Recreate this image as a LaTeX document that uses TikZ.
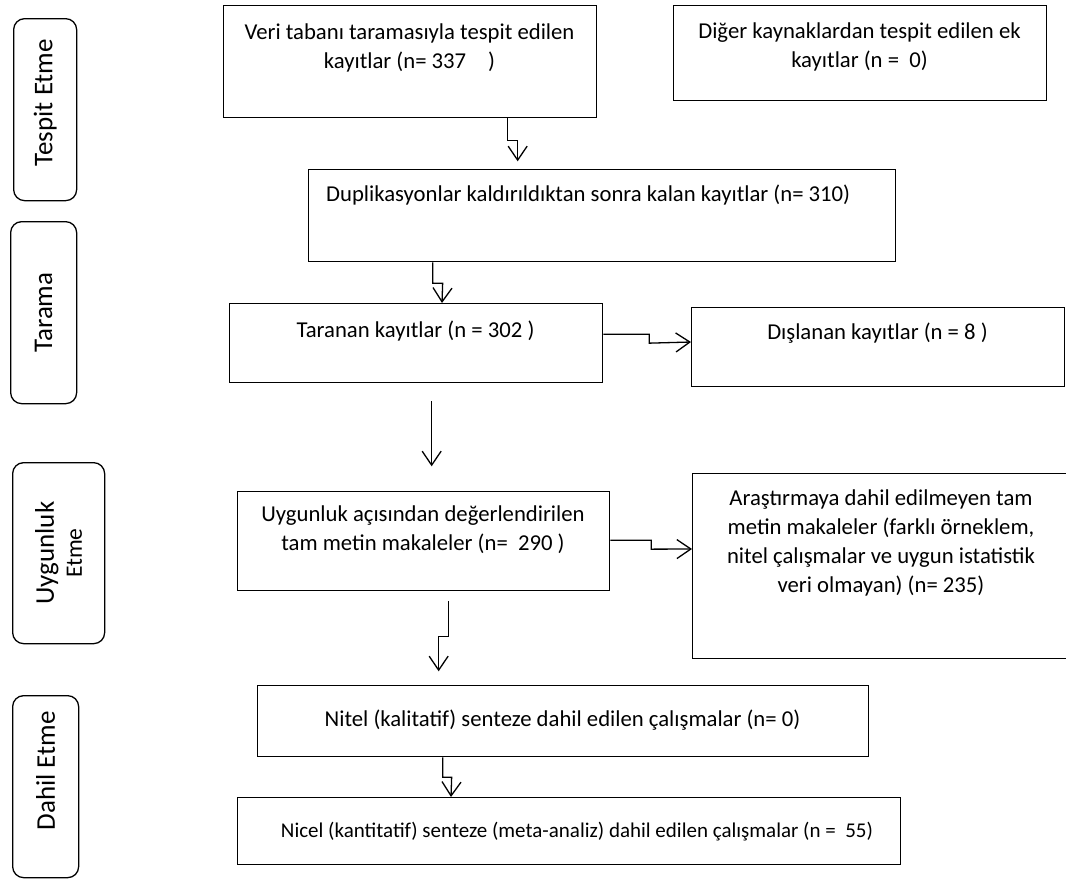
\documentclass[tikz,border=0pt]{standalone}
\usepackage{fontspec}
\setmainfont{Carlito}
\usetikzlibrary{arrows.meta}
\begin{document}
\begin{tikzpicture}[x=1pt,y=-1pt,
  box/.style={draw,line width=1.3pt,inner sep=0pt,anchor=north west},
  side/.style={draw,line width=1.3pt,rounded corners=11pt,inner sep=0pt,anchor=north west},
  txt/.style={inner sep=0pt,anchor=base,align=center,font=\fontsize{22.7}{29}\selectfont},
  stxt/.style={inner sep=0pt,rotate=90,align=center,font=\fontsize{27}{31}\selectfont},
  arr/.style={line width=1.3pt,-{Straight Barb[length=14pt,width=19pt,line width=1.3pt]}}]
\useasboundingbox (0,0) rectangle (1066,879);
% side labels
\node[side,minimum width=63pt,minimum height=182pt] (s1) at (13,18) {};
\node[side,minimum width=66pt,minimum height=182pt] (s2) at (10,221) {};
\node[side,minimum width=92pt,minimum height=181pt] (s3) at (12,462) {};
\node[side,minimum width=66pt,minimum height=182pt] (s4) at (12,695) {};
\node[stxt] (l1) at ([yshift=7pt]s1.center) {Tespit Etme};
\node[stxt] (l2) at (s2.center) {Tarama};
\node[stxt] (l3) at (s3.center) {Uygunluk\\[-3pt]{\fontsize{23.5}{28}\selectfont Etme}};
\node[stxt] (l4) at ([yshift=16pt]s4.center) {Dahil Etme};
% boxes
\node[box,minimum width=373pt,minimum height=112pt] (b1) at (223,5) {};
\node[box,minimum width=373pt,minimum height=95pt] (b2) at (673,5) {};
\node[box,minimum width=587pt,minimum height=92pt] (b3) at (308,169) {};
\node[box,minimum width=373pt,minimum height=79pt] (b4) at (229,303) {};
\node[box,minimum width=373pt,minimum height=79pt] (b5) at (691,307) {};
\node[box,minimum width=372pt,minimum height=99pt] (b6) at (237,491) {};
\node[box,minimum width=378pt,minimum height=185pt] (b7) at (692,473) {};
\node[box,minimum width=611pt,minimum height=71pt] (b8) at (257,685) {};
\node[box,minimum width=663pt,minimum height=67pt] (b9) at (237,797) {};
% texts (base = baseline of the last line)
\node[txt] (t1) at (409.5,68) {Veri tabanı taramasıyla tespit edilen\\kayıtlar (n= 337\hspace{22pt})};
\node[txt] (t2) at (859.5,67) {Diğer kaynaklardan tespit edilen ek\\kayıtlar (n = \ 0)};
\node[txt,anchor=base west] (t3) at (326,201) {Duplikasyonlar kaldırıldıktan sonra kalan kayıtlar (n= 310)};
\node[txt] (t4) at (415.5,337) {Taranan kayıtlar (n = 302 )};
\node[txt] (t5) at (877.5,339) {Dışlanan kayıtlar (n = 8 )};
\node[txt] (t6) at (423,550) {Uygunluk açısından değerlendirilen\\tam metin makaleler (n= \ 290 )};
\node[txt] (t7) at (881,592) {Araştırmaya dahil edilmeyen tam\\metin makaleler (farklı örneklem,\\nitel çalışmalar ve uygun istatistik\\veri olmayan) (n= 235)};
\node[txt] (t8) at (562.5,726) {Nitel (kalitatif) senteze dahil edilen çalışmalar (n= 0)};
\node[txt,font=\fontsize{21}{26}\selectfont] (t9) at (577,837) {Nicel (kantitatif) senteze (meta-analiz) dahil edilen çalışmalar (n = \ 55)};
% connectors
\draw[arr] ([xshift=97.5pt]b1.south) -- ++(0,22) -- ++(10,0) -- ++(0,21);
\draw[arr] ([xshift=-169.5pt]b3.south) -- ++(0,21) -- ++(10,0) -- (b4.north -| 442,0);
\draw[arr] ([yshift=9pt]b4.east) -- ++(46,0) -- ++(0,9) -- (b5.west |- 0,342);
\draw[arr] ([xshift=15.5pt,yshift=-18pt]b4.south) -- ++(0,65);
\draw[arr] ([yshift=1pt]b6.east) -- ++(41,0) -- ++(0,9) -- (b7.west |- 0,549);
\draw[arr] ([xshift=25pt,yshift=-10pt]b6.south) -- ++(0,35) -- ++(-10,0) -- ++(0,35);
\draw[arr] ([xshift=-120.5pt]b8.south) -- ++(0,20) -- ++(9,0) -- (b9.north -| 451,0);
\end{tikzpicture}
\end{document}
